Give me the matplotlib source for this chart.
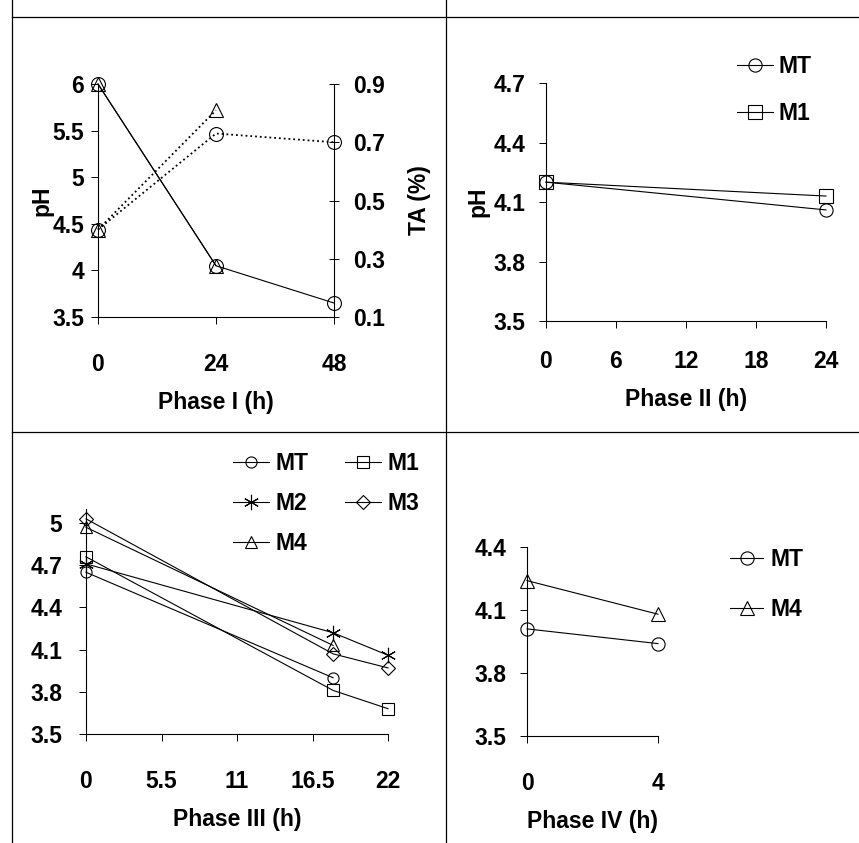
import matplotlib.pyplot as plt
from matplotlib.lines import Line2D
import numpy as np

# %% data
# Phase I: pH (left axis) and titratable acidity (right axis)
p1_time = [0, 24, 48]
p1_time_short = [0, 24]
p1_ph_mt = [6.0, 4.05, 3.65]
p1_ph_m4 = [6.0, 4.05]
p1_ta_mt = [0.40, 0.73, 0.70]
p1_ta_m4 = [0.40, 0.81]

# Phase II
p2_time = [0, 24]
p2_mt = [4.20, 4.06]
p2_m1 = [4.20, 4.13]

# Phase III
p3_time = [0, 18, 22]
p3_time_short = [0, 18]
p3_mt = [4.65, 3.90]
p3_m1 = [4.76, 3.81, 3.68]
p3_m2 = [4.71, 4.22, 4.06]
p3_m3 = [5.03, 4.07, 3.97]
p3_m4 = [4.97, 4.13]

# Phase IV
p4_time = [0, 4]
p4_mt = [4.01, 3.94]
p4_m4 = [4.24, 4.08]

# %% figure setup
W, H = 859, 843
FS = 16.5
plt.rcParams['font.family'] = ['Liberation Sans', 'DejaVu Sans']
plt.rcParams['font.weight'] = 'bold'
plt.rcParams['font.size'] = FS

fig = plt.figure(figsize=(W / 100, H / 100), dpi=100)


def px_axes(x0, x1, y_top, y_bot):
	return fig.add_axes([x0 / W, 1 - y_bot / H, (x1 - x0) / W, (y_bot - y_top) / H])


def fig_line(x0, y0, x1, y1):
	fig.add_artist(Line2D([x0 / W, x1 / W], [1 - y0 / H, 1 - y1 / H],
	                      transform=fig.transFigure, color='black', lw=0.9))


def style_axes(ax, xpad=22, ypad=9):
	ax.spines['top'].set_visible(False)
	ax.spines['right'].set_visible(False)
	for s in ['left', 'bottom']:
		ax.spines[s].set_linewidth(0.8)
	ax.tick_params(axis='both', direction='out', length=5, width=0.7, labelsize=FS)
	ax.tick_params(axis='x', pad=xpad)
	ax.tick_params(axis='y', pad=ypad)
	ax.patch.set_alpha(0)


def series(ax, x, y, marker, ms=9, ls='-', lw=0.8, label=None):
	line, = ax.plot(x, y, ls=ls, lw=lw, color='black', marker=marker, ms=ms,
	                mfc='none', mec='black', mew=0.8, clip_on=False, label=label)
	return line


def add_legend(ax, handles, labels, x, y, **kw):
	ax.legend(handles, labels, loc='upper left',
	          bbox_to_anchor=(x / W, 1 - y / H), bbox_transform=fig.transFigure,
	          frameon=False, borderpad=0, borderaxespad=0,
	          prop={'weight': 'bold', 'size': FS}, **kw)


# panel dividers
fig_line(12, 0, 12, H)
fig_line(446, 0, 446, H)
fig_line(12, 17, W, 17)
fig_line(12, 432, W, 432)

# %% Phase I
ax1 = px_axes(98, 334, 84, 317)
style_axes(ax1, xpad=21, ypad=5)
series(ax1, p1_time, p1_ph_mt, 'o', ms=10)
series(ax1, p1_time_short, p1_ph_m4, '^', ms=10)
ax1.set_xlim(0, 48)
ax1.set_ylim(3.5, 6.0)
ax1.set_xticks([0, 24, 48])
ax1.set_yticks([3.5, 4, 4.5, 5, 5.5, 6])
ax1.set_yticklabels(['3.5', '4', '4.5', '5', '5.5', '6'])
ax1.set_xlabel('Phase I (h)', fontweight='bold', labelpad=11)
ax1.set_ylabel('pH', fontweight='bold', labelpad=-1)

ax1b = ax1.twinx()
ax1b.spines['top'].set_visible(False)
ax1b.spines['left'].set_visible(False)
ax1b.spines['bottom'].set_visible(False)
ax1b.spines['right'].set_linewidth(0.8)
ax1b.tick_params(axis='y', direction='inout', length=7, width=0.7, labelsize=FS, pad=10)
series(ax1b, p1_time, p1_ta_mt, 'o', ms=10, ls=':', lw=1.3)
series(ax1b, p1_time_short, p1_ta_m4, '^', ms=10, ls=':', lw=1.3)
ax1b.set_ylim(0.1, 0.9)
ax1b.set_yticks([0.1, 0.3, 0.5, 0.7, 0.9])
ax1b.set_ylabel('TA (%)', fontweight='bold', labelpad=17)

# %% Phase II
ax2 = px_axes(546, 826, 83, 321)
style_axes(ax2, xpad=16, ypad=10)
h_mt = series(ax2, p2_time, p2_mt, 'o', ms=9.5)
h_m1 = series(ax2, p2_time, p2_m1, 's', ms=9.5)
ax2.set_xlim(0, 24)
ax2.set_ylim(3.5, 4.7)
ax2.set_xticks([0, 6, 12, 18, 24])
ax2.set_yticks([3.5, 3.8, 4.1, 4.4, 4.7])
ax2.set_xlabel('Phase II (h)', fontweight='bold', labelpad=11)
ax2.set_ylabel('pH', fontweight='bold', labelpad=3)
add_legend(ax2, [h_mt, h_m1], ['MT', 'M1'], 737, 55,
           handlelength=1.55, handletextpad=0.25, labelspacing=1.05)

# %% Phase III
ax3 = px_axes(86, 388, 509, 734)
style_axes(ax3, xpad=21, ypad=12)
h3 = {}
h3['MT'] = series(ax3, p3_time_short, p3_mt, 'o', ms=8)
h3['M1'] = series(ax3, p3_time, p3_m1, 's', ms=8)
h3['M2'] = series(ax3, p3_time, p3_m2, (6, 2, 0), ms=11)
h3['M3'] = series(ax3, p3_time, p3_m3, 'D', ms=7.5)
h3['M4'] = series(ax3, p3_time_short, p3_m4, '^', ms=8.5)
ax3.set_xlim(0, 22)
ax3.set_ylim(3.5, 5.1)
ax3.set_xticks([0, 5.5, 11, 16.5, 22])
ax3.set_xticklabels(['0', '5.5', '11', '16.5', '22'])
ax3.set_yticks([3.5, 3.8, 4.1, 4.4, 4.7, 5.0])
ax3.set_yticklabels(['3.5', '3.8', '4.1', '4.4', '4.7', '5'])
ax3.set_xlabel('Phase III (h)', fontweight='bold', labelpad=11)
order = ['MT', 'M2', 'M4', 'M1', 'M3']
add_legend(ax3, [h3[k] for k in order], order, 233, 452, ncol=2,
           handlelength=1.55, handletextpad=0.3, labelspacing=0.75, columnspacing=1.6)

# %% Phase IV
ax4 = px_axes(527, 658, 547, 736)
style_axes(ax4, xpad=21, ypad=10)
h4_mt = series(ax4, p4_time, p4_mt, 'o', ms=9.5)
h4_m4 = series(ax4, p4_time, p4_m4, '^', ms=9.5)
ax4.set_xlim(0, 4)
ax4.set_ylim(3.5, 4.4)
ax4.set_xticks([0, 4])
ax4.set_yticks([3.5, 3.8, 4.1, 4.4])
ax4.set_xlabel('Phase IV (h)', fontweight='bold', labelpad=11)
add_legend(ax4, [h4_mt, h4_m4], ['MT', 'M4'], 730, 548,
           handlelength=1.45, handletextpad=0.3, labelspacing=1.2)

fig.savefig('out.png', dpi=100)
